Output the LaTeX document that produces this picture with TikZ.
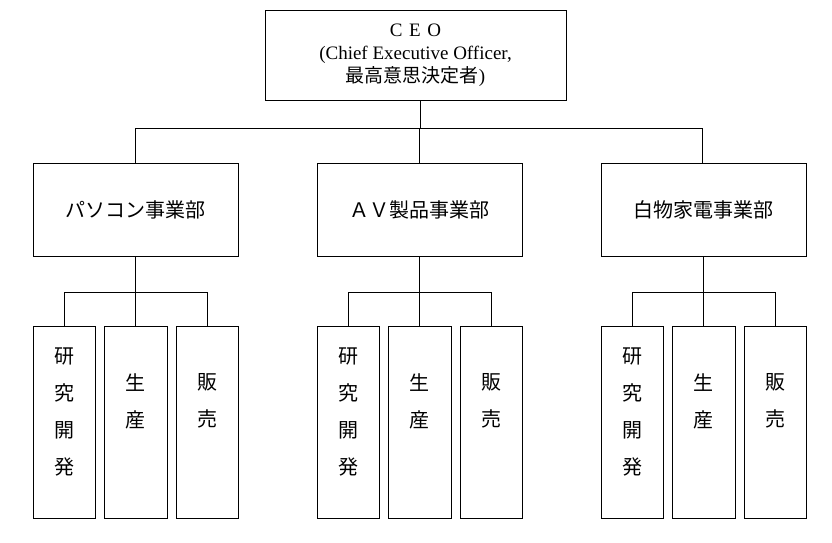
\documentclass[tikz,border=0pt]{standalone}
\usepackage{fontspec}
\newfontfamily\cjk{Noto Sans CJK JP}
\setmainfont{Liberation Serif}
\begin{document}
\begin{tikzpicture}[x=1pt,y=-1pt,
  box/.style={draw,line width=0.8pt,anchor=north west,inner sep=0pt},
  ln/.style={line width=0.7pt}]
\useasboundingbox (0,0) rectangle (832,543);
\tikzset{bx/.code args={#1,#2,#3,#4}{}}
% CEO
\draw[ln,line width=0.8pt] (265,10) rectangle (566,100);
\node[align=center,font=\fontsize{19}{23}\selectfont] (ceo) at (415.5,55) {C\hspace{0.35em}E\hspace{0.35em}O\\(Chief Executive Officer,\\{\cjk 最高意思決定者})};
\coordinate (ceob) at (420,100);
\coordinate (j0) at (420,128);
% divisions
\foreach \n/\x/\t in {d1/33/パソコン事業部,d2/317/ＡＶ製品事業部,d3/601/白物家電事業部}{
  \draw[line width=0.8pt] (\x,163) rectangle ++(205,93);
  \node[font=\cjk\fontsize{20}{24}\selectfont] (\n) at (\x+102.5,209.5) {\t};
}
\draw[ln] (ceob) -- (j0);
\draw[ln] (135,128) -- (702,128);
\foreach \x in {135,419,702}{\draw[ln] (\x,128) -- (\x,163);}
% subs
\foreach \x [count=\i] in {33,317,601}{
  \draw[ln] (\x+102,256) -- (\x+102,292);
  \draw[ln] (\x+31,292) -- (\x+174,292);
  \foreach \dx in {31,102,174}{\draw[ln] (\x+\dx,292) -- (\x+\dx,326);}
  \draw[line width=0.8pt] (\x,326) rectangle ++(62,192);
  \draw[line width=0.8pt] (\x+71,326) rectangle ++(63,192);
  \draw[line width=0.8pt] (\x+143,326) rectangle ++(62,192);
  \node[font=\cjk\fontsize{20}{37}\selectfont,align=center] (r\i) at (\x+31,412) {研\\究\\開\\発};
  \node[font=\cjk\fontsize{20}{37}\selectfont,align=center] (p\i) at (\x+102.5,401) {生\\産};
  \node[font=\cjk\fontsize{20}{37}\selectfont,align=center] (s\i) at (\x+174,401) {販\\売};
}
\end{tikzpicture}
\end{document}
